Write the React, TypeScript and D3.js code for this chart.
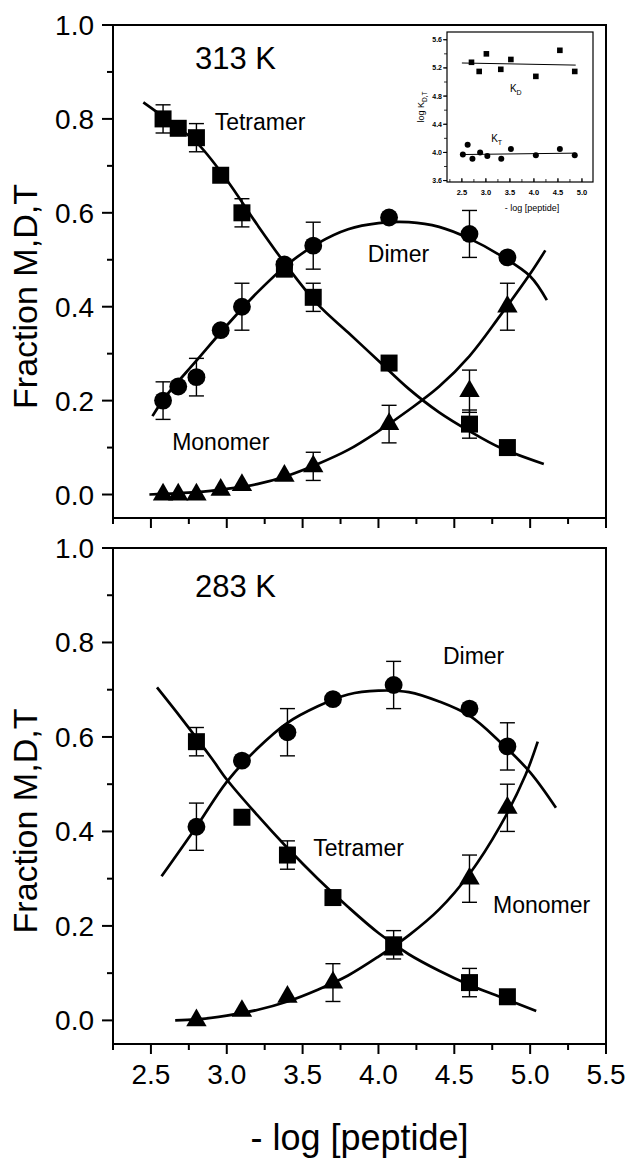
import React from "react";
import * as d3 from "d3";

// ---- axis ticks ----
const X_TICKS = [2.5, 3.0, 3.5, 4.0, 4.5, 5.0, 5.5];
const Y_TICKS = [0, 0.2, 0.4, 0.6, 0.8, 1.0];
const INSET_X_TICKS = [2.5, 3.0, 3.5, 4.0, 4.5, 5.0];
const INSET_Y_TICKS = [3.6, 4.0, 4.4, 4.8, 5.2, 5.6];

// ---- 313 K ----
const hotX = [2.58, 2.68, 2.8, 2.96, 3.1, 3.38, 3.57, 4.07, 4.6, 4.85];
const hotTetramer = [0.8, 0.78, 0.76, 0.68, 0.6, 0.48, 0.42, 0.28, 0.15, 0.1];
const hotTetramerErr = [0.03, 0, 0.03, 0, 0.03, 0, 0.03, 0, 0.03, 0];
const hotDimer = [0.2, 0.23, 0.25, 0.35, 0.4, 0.49, 0.53, 0.59, 0.555, 0.505];
const hotDimerErr = [0.04, 0, 0.04, 0, 0.05, 0, 0.05, 0, 0.05, 0];
const hotMonomer = [0, 0, 0, 0.01, 0.02, 0.04, 0.06, 0.15, 0.22, 0.4];
const hotMonomerErr = [0, 0, 0, 0, 0, 0, 0.03, 0.04, 0.045, 0.05];

const hotTetramerFit: [number, number][] = [
  [2.45, 0.835], [2.6, 0.8], [2.8, 0.75], [3.0, 0.67], [3.2, 0.575], [3.4, 0.485],
  [3.6, 0.405], [3.8, 0.345], [4.0, 0.285], [4.2, 0.225], [4.4, 0.175], [4.6, 0.135],
  [4.8, 0.1], [5.09, 0.065],
];
const hotDimerFit: [number, number][] = [
  [2.51, 0.167], [2.6, 0.21], [2.8, 0.285], [3.0, 0.36], [3.2, 0.43], [3.4, 0.49],
  [3.6, 0.535], [3.8, 0.565], [4.0, 0.578], [4.2, 0.58], [4.4, 0.57], [4.6, 0.545],
  [4.8, 0.51], [5.0, 0.465], [5.11, 0.414],
];
const hotMonomerFit: [number, number][] = [
  [2.49, 0], [2.8, 0.005], [3.0, 0.012], [3.2, 0.022], [3.4, 0.04], [3.6, 0.065],
  [3.8, 0.095], [4.0, 0.135], [4.2, 0.18], [4.4, 0.23], [4.6, 0.295], [4.8, 0.38],
  [5.0, 0.47], [5.1, 0.52],
];

// ---- 283 K ----
const coldX = [2.8, 3.1, 3.4, 3.7, 4.1, 4.6, 4.85];
const coldTetramer = [0.59, 0.43, 0.35, 0.26, 0.16, 0.08, 0.05];
const coldTetramerErr = [0.03, 0, 0.03, 0, 0.03, 0.03, 0];
const coldDimer = [0.41, 0.55, 0.61, 0.68, 0.71, 0.66, 0.58];
const coldDimerErr = [0.05, 0, 0.05, 0, 0.05, 0, 0.05];
const coldMonomer = [0, 0.02, 0.05, 0.08, 0.15, 0.3, 0.45];
const coldMonomerErr = [0, 0, 0, 0.04, 0, 0.05, 0.05];

const coldTetramerFit: [number, number][] = [
  [2.54, 0.705], [2.7, 0.64], [2.9, 0.555], [3.0, 0.51], [3.2, 0.435], [3.4, 0.365],
  [3.6, 0.3], [3.8, 0.24], [4.0, 0.185], [4.2, 0.14], [4.4, 0.105], [4.6, 0.075],
  [4.8, 0.05], [5.04, 0.02],
];
const coldDimerFit: [number, number][] = [
  [2.57, 0.305], [2.8, 0.41], [3.0, 0.505], [3.2, 0.575], [3.4, 0.63], [3.6, 0.665],
  [3.8, 0.69], [4.0, 0.698], [4.2, 0.695], [4.4, 0.675], [4.6, 0.645], [4.8, 0.59],
  [5.0, 0.525], [5.17, 0.45],
];
const coldMonomerFit: [number, number][] = [
  [2.66, 0], [2.8, 0.002], [3.0, 0.01], [3.2, 0.022], [3.4, 0.04], [3.6, 0.065],
  [3.8, 0.095], [4.0, 0.135], [4.2, 0.18], [4.4, 0.235], [4.6, 0.31], [4.8, 0.41],
  [4.97, 0.52], [5.05, 0.59],
];

// ---- inset: log K vs -log[peptide] (313 K) ----
const kdX = [2.7, 2.86, 3.01, 3.31, 3.52, 4.04, 4.54, 4.85];
const kdY = [5.28, 5.15, 5.4, 5.18, 5.32, 5.08, 5.45, 5.15];
const ktX = [2.52, 2.62, 2.72, 2.88, 3.03, 3.32, 3.52, 4.04, 4.54, 4.85];
const ktY = [3.97, 4.11, 3.91, 4.0, 3.95, 3.91, 4.05, 3.96, 4.05, 3.96];
const kdFit: [number, number][] = [[2.5, 5.27], [4.87, 5.24]];
const ktFit: [number, number][] = [[2.5, 3.97], [4.87, 3.99]];

const FONT = "'Liberation Sans', Arial, Helvetica, sans-serif";
const W = 629;
const H = 1166;
const LEFT = 113;
const RIGHT = 606;

type Series = { x: number[]; y: number[]; err: number[]; shape: d3.SymbolType; size: number };
type Label = { text: string; x: number; y: number; size: number };

interface PanelProps {
  top: number;
  bottom: number;
  series: Series[];
  fits: [number, number][][];
  labels: Label[];
  showXLabels: boolean;
}

function Panel({ top, bottom, series, fits, labels, showXLabels }: PanelProps) {
  const x = d3.scaleLinear().domain([2.25, 5.5]).range([LEFT, RIGHT]);
  const y = d3.scaleLinear().domain([-0.05, 1.0]).range([bottom, top]);
  const line = d3.line<[number, number]>()
    .x((d) => x(d[0]))
    .y((d) => y(d[1]))
    .curve(d3.curveCatmullRom);
  const xMinor = d3.range(2.25, 5.51, 0.25).filter((v) => !X_TICKS.some((t) => Math.abs(t - v) < 1e-6));
  const yMinor = [0.1, 0.3, 0.5, 0.7, 0.9];
  const cap = 7.5;

  return (
    <g>
      <rect x={LEFT} y={top} width={RIGHT - LEFT} height={bottom - top} fill="none" stroke="#000" strokeWidth={2} />
      {/* y axis */}
      {Y_TICKS.map((t) => (
        <g key={`y${t}`}>
          <line x1={LEFT - 11} x2={LEFT} y1={y(t)} y2={y(t)} stroke="#000" strokeWidth={2} />
          <text x={LEFT - 19} y={y(t) + 10} textAnchor="end" fontSize={28} fontFamily={FONT}>
            {t.toFixed(1)}
          </text>
        </g>
      ))}
      {yMinor.map((t) => (
        <line key={`ym${t}`} x1={LEFT - 6} x2={LEFT} y1={y(t)} y2={y(t)} stroke="#000" strokeWidth={2} />
      ))}
      {/* x axis */}
      {X_TICKS.map((t) => (
        <g key={`x${t}`}>
          <line x1={x(t)} x2={x(t)} y1={bottom} y2={bottom + 10} stroke="#000" strokeWidth={2} />
          {showXLabels && (
            <text x={x(t)} y={bottom + 40} textAnchor="middle" fontSize={28} fontFamily={FONT}>
              {t.toFixed(1)}
            </text>
          )}
        </g>
      ))}
      {xMinor.map((t) => (
        <line key={`xm${t}`} x1={x(t)} x2={x(t)} y1={bottom} y2={bottom + 6} stroke="#000" strokeWidth={2} />
      ))}
      {/* fitted curves */}
      {fits.map((f, i) => (
        <path key={`f${i}`} d={line(f) ?? undefined} fill="none" stroke="#000" strokeWidth={2.7} />
      ))}
      {/* error bars */}
      {series.map((s, si) =>
        s.x.map((xv, i) =>
          s.err[i] > 0 ? (
            <g key={`e${si}-${i}`} stroke="#000" strokeWidth={1.4}>
              <line x1={x(xv)} x2={x(xv)} y1={y(s.y[i] - s.err[i])} y2={y(s.y[i] + s.err[i])} />
              <line x1={x(xv) - cap} x2={x(xv) + cap} y1={y(s.y[i] - s.err[i])} y2={y(s.y[i] - s.err[i])} />
              <line x1={x(xv) - cap} x2={x(xv) + cap} y1={y(s.y[i] + s.err[i])} y2={y(s.y[i] + s.err[i])} />
            </g>
          ) : null
        )
      )}
      {/* markers */}
      {series.map((s, si) =>
        s.x.map((xv, i) => (
          <path
            key={`m${si}-${i}`}
            transform={`translate(${x(xv)},${y(s.y[i])})`}
            d={d3.symbol().type(s.shape).size(s.size)() ?? undefined}
            fill="#000"
          />
        ))
      )}
      {labels.map((l) => (
        <text key={l.text} x={x(l.x)} y={y(l.y)} fontSize={l.size} fontFamily={FONT}>
          {l.text}
        </text>
      ))}
      <text
        transform={`translate(37,${(top + bottom) / 2 + 25}) rotate(-90)`}
        textAnchor="middle"
        fontSize={34}
        fontFamily={FONT}
      >
        Fraction M,D,T
      </text>
    </g>
  );
}

function Inset() {
  const x = d3.scaleLinear().domain([2.19, 5.23]).range([447, 593]);
  const y = d3.scaleLinear().domain([3.58, 5.71]).range([182, 32]);
  const line = d3.line<[number, number]>().x((d) => x(d[0])).y((d) => y(d[1]));
  const xMinor = d3.range(2.25, 5.2, 0.25);
  const yMinor = d3.range(3.6, 5.7, 0.2);
  return (
    <g fontFamily={FONT}>
      <rect x={447} y={32} width={146} height={150} fill="#fff" stroke="#000" strokeWidth={1.2} />
      {yMinor.map((t) => (
        <line key={`iym${t}`} x1={444} x2={447} y1={y(t)} y2={y(t)} stroke="#000" strokeWidth={0.8} />
      ))}
      {INSET_Y_TICKS.map((t) => (
        <g key={`iy${t}`}>
          <line x1={443} x2={447} y1={y(t)} y2={y(t)} stroke="#000" strokeWidth={1} />
          <text x={442} y={y(t) + 2.5} textAnchor="end" fontSize={7} fontWeight="bold">
            {t.toFixed(1)}
          </text>
        </g>
      ))}
      {xMinor.map((t) => (
        <line key={`ixm${t}`} x1={x(t)} x2={x(t)} y1={182} y2={179} stroke="#000" strokeWidth={0.8} />
      ))}
      {INSET_X_TICKS.map((t) => (
        <g key={`ix${t}`}>
          <line x1={x(t)} x2={x(t)} y1={182} y2={178} stroke="#000" strokeWidth={1} />
          <text x={x(t)} y={195} textAnchor="middle" fontSize={7.5} fontWeight="bold">
            {t.toFixed(1)}
          </text>
        </g>
      ))}
      <path d={line(kdFit) ?? undefined} stroke="#000" strokeWidth={1} fill="none" />
      <path d={line(ktFit) ?? undefined} stroke="#000" strokeWidth={1} fill="none" />
      {kdX.map((xv, i) => (
        <rect key={`kd${i}`} x={x(xv) - 2.8} y={y(kdY[i]) - 2.8} width={5.6} height={5.6} fill="#000" />
      ))}
      {ktX.map((xv, i) => (
        <circle key={`kt${i}`} cx={x(xv)} cy={y(ktY[i])} r={3} fill="#000" />
      ))}
      <text x={x(3.5)} y={y(4.86)} fontSize={10}>
        K<tspan fontSize={7} dy={3}>D</tspan>
      </text>
      <text x={x(3.11)} y={y(4.15)} fontSize={10}>
        K<tspan fontSize={7} dy={3}>T</tspan>
      </text>
      <text x={532} y={211} textAnchor="middle" fontSize={9}>
        - log [peptide]
      </text>
      <text transform={`translate(424,${(32 + 182) / 2}) rotate(-90)`} textAnchor="middle" fontSize={9}>
        log K<tspan fontSize={6.5} dy={2.5}>D,T</tspan>
      </text>
    </g>
  );
}

export default function App() {
  const hotSeries: Series[] = [
    { x: hotX, y: hotTetramer, err: hotTetramerErr, shape: d3.symbolSquare, size: 289 },
    { x: hotX, y: hotDimer, err: hotDimerErr, shape: d3.symbolCircle, size: 250 },
    { x: hotX, y: hotMonomer, err: hotMonomerErr, shape: d3.symbolTriangle, size: 180 },
  ];
  const coldSeries: Series[] = [
    { x: coldX, y: coldTetramer, err: coldTetramerErr, shape: d3.symbolSquare, size: 289 },
    { x: coldX, y: coldDimer, err: coldDimerErr, shape: d3.symbolCircle, size: 250 },
    { x: coldX, y: coldMonomer, err: coldMonomerErr, shape: d3.symbolTriangle, size: 180 },
  ];
  return (
    <svg
      width={W}
      height={H}
      viewBox={`0 0 ${W} ${H}`}
      style={{ position: "absolute", left: 0, top: 0, background: "#fff" }}
    >
      <rect width={W} height={H} fill="#fff" />
      <Panel
        top={25}
        bottom={518}
        series={hotSeries}
        fits={[hotTetramerFit, hotDimerFit, hotMonomerFit]}
        labels={[
          { text: "313 K", x: 2.79, y: 0.906, size: 31 },
          { text: "Tetramer", x: 2.92, y: 0.776, size: 23 },
          { text: "Dimer", x: 3.93, y: 0.495, size: 23 },
          { text: "Monomer", x: 2.64, y: 0.095, size: 23 },
        ]}
        showXLabels={false}
      />
      <Inset />
      <Panel
        top={548}
        bottom={1044}
        series={coldSeries}
        fits={[coldTetramerFit, coldDimerFit, coldMonomerFit]}
        labels={[
          { text: "283 K", x: 2.79, y: 0.896, size: 31 },
          { text: "Dimer", x: 4.425, y: 0.754, size: 23 },
          { text: "Tetramer", x: 3.57, y: 0.348, size: 23 },
          { text: "Monomer", x: 4.755, y: 0.227, size: 23 },
        ]}
        showXLabels={true}
      />
      <text x={(LEFT + RIGHT) / 2} y={1150} textAnchor="middle" fontSize={36} fontFamily={FONT}>
        - log [peptide]
      </text>
    </svg>
  );
}
